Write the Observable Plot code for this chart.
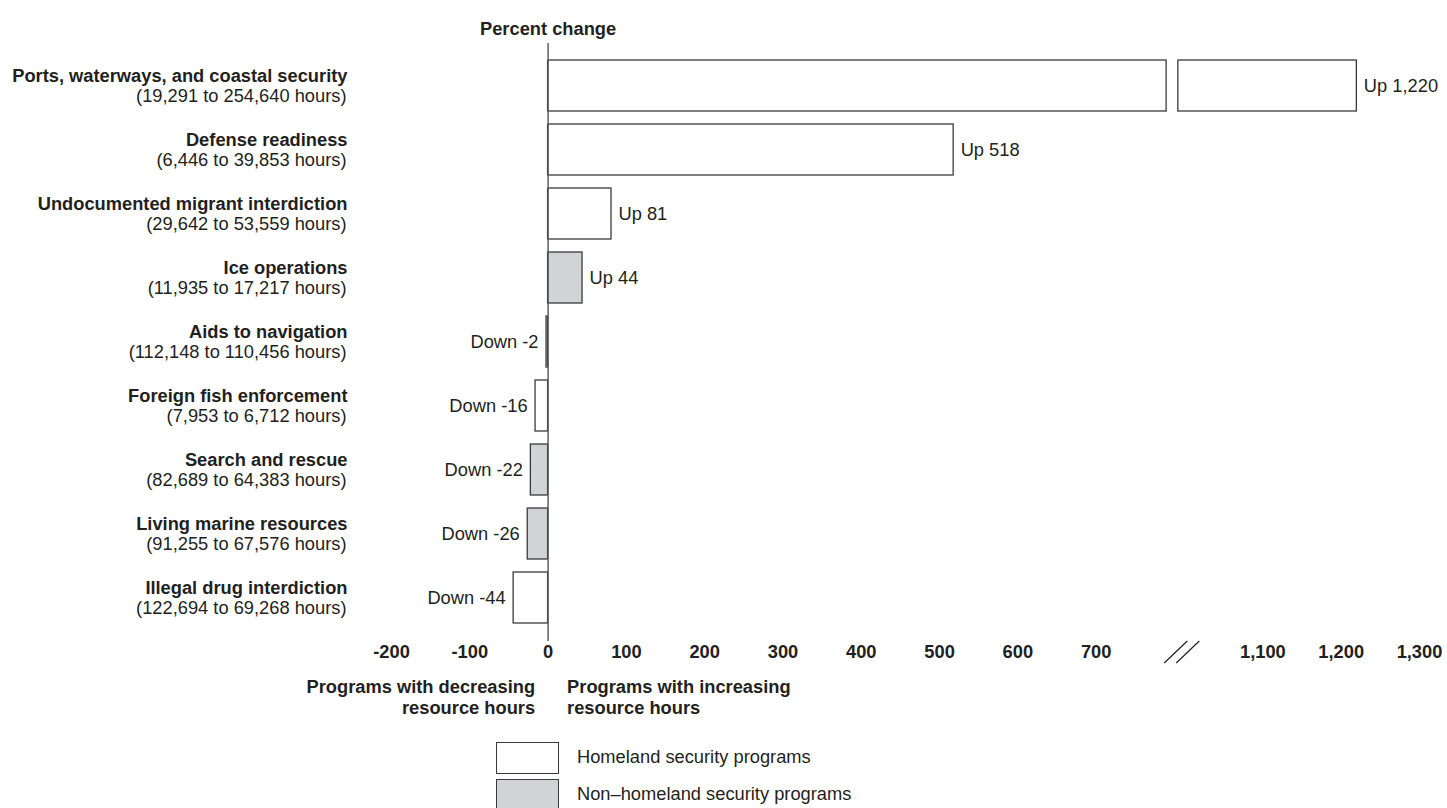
<!DOCTYPE html>
<html>
<head>
<meta charset="utf-8">
<script src="https://cdn.jsdelivr.net/npm/d3@7"></script>
<script src="https://cdn.jsdelivr.net/npm/@observablehq/plot@0.6"></script>
<style>
  html, body { margin: 0; padding: 0; background: #fff; overflow: hidden; }
  body { width: 1447px; height: 808px; position: relative;
         font-family: "Liberation Sans", Arial, Helvetica, sans-serif; color: #231f20; }
  #legend { position: absolute; left: 496px; top: 742px; }
  .item { position: relative; height: 37px; }
  .swatch { position: absolute; left: 0; top: 0; width: 61px; height: 30px; border: 1.3px solid #3a3a3a; }
  .lab { position: absolute; left: 81px; top: 4px; font-size: 18.3px; white-space: nowrap; line-height: 22px; }
</style>
</head>
<body>
<div id="chart"></div>
<div id="legend"></div>
<script>
// ---- data ----
const categories = [
  "Ports, waterways, and coastal security",
  "Defense readiness",
  "Undocumented migrant interdiction",
  "Ice operations",
  "Aids to navigation",
  "Foreign fish enforcement",
  "Search and rescue",
  "Living marine resources",
  "Illegal drug interdiction"
];
const hoursBefore = [19291, 6446, 29642, 11935, 112148, 7953, 82689, 91255, 122694];
const hoursAfter  = [254640, 39853, 53559, 17217, 110456, 6712, 64383, 67576, 69268];
const percentChange = [1220, 518, 81, 44, -2, -16, -22, -26, -44];
const homeland = [true, true, true, false, false, true, false, false, true];
const tickValues = [-200, -100, 0, 100, 200, 300, 400, 500, 600, 700, 1100, 1200, 1300];
const legendLabels = ["Homeland security programs", "Non\u2013homeland security programs"];

// ---- broken axis ----
const CUT = 800;        // values above this are shifted left
const OFFSET = 187;     // amount of the axis removed
const SEG1_END = 790;   // end of first piece of a broken bar
const SEG2_START = 805; // start of second piece (display units)
const BREAK_AT = 810;   // position of the // on the axis (display units)
const disp = v => v > CUT ? v - OFFSET : v;
const undisp = d => d > CUT ? d + OFFSET : d;

const WHITE = "#ffffff", GRAY = "#d1d3d4", INK = "#231f20", EDGE = "#3a3a3a";
const FS = 18.3;
const fmtNum = d3.format(",");
const fmt = v => (v < 0 ? "-" : "") + fmtNum(Math.abs(v));

const rows = categories.map((c, i) => ({
  category: c,
  sub: `(${fmtNum(hoursBefore[i])} to ${fmtNum(hoursAfter[i])} hours)`,
  value: percentChange[i],
  homeland: homeland[i],
  label: percentChange[i] > 0 ? `Up ${fmt(percentChange[i])}` : `Down ${fmt(percentChange[i])}`
}));

const segments = rows.flatMap(r => r.value > CUT
  ? [{...r, x1: 0, x2: SEG1_END}, {...r, x1: SEG2_START, x2: disp(r.value)}]
  : [{...r, x1: Math.min(0, r.value), x2: Math.max(0, r.value)}]);

function breakMark(index, scales, values, dims) {
  const x = scales.x(BREAK_AT);
  const y = dims.height - dims.marginBottom;
  const g = d3.create("svg:g").attr("stroke", INK).attr("stroke-width", 1.2);
  for (const off of [-6, 6]) {
    g.append("line")
      .attr("x1", x + off - 11.5).attr("y1", y + 22)
      .attr("x2", x + off + 11.5).attr("y2", y);
  }
  return g.node();
}

const H = 720;
const chart = Plot.plot({
  width: 1447,
  height: H,
  marginLeft: 391,
  marginRight: 28,
  marginTop: 43,
  marginBottom: H - 641,
  style: {fontFamily: '"Liberation Sans", Arial, Helvetica, sans-serif', fontSize: FS + "px", color: INK, background: "#fff"},
  x: {domain: [-200, disp(1300)], axis: null},
  y: {domain: categories, axis: null, paddingInner: 0.2, paddingOuter: 0.25},
  color: {type: "identity"},
  marks: [
    Plot.barX(segments, {
      y: "category", x1: "x1", x2: "x2",
      fill: d => d.homeland ? WHITE : GRAY,
      stroke: EDGE, strokeWidth: 1.3
    }),
    Plot.ruleX([0], {stroke: "#555", strokeWidth: 1.4}),
    Plot.axisX({
      ticks: tickValues.map(disp),
      tickFormat: d => fmt(undisp(d)),
      tickSize: 0, tickPadding: 3,
      fontWeight: "bold", fontSize: FS, anchor: "bottom", label: null
    }),
    breakMark,
    // value labels
    Plot.text(rows.filter(d => d.value > 0), {
      y: "category", x: d => disp(d.value), text: "label",
      textAnchor: "start", dx: 7, fill: INK, fontSize: FS
    }),
    Plot.text(rows.filter(d => d.value < 0), {
      y: "category", x: "value", text: "label",
      textAnchor: "end", dx: -8, fill: INK, fontSize: FS
    }),
    // category labels
    Plot.text(rows, {
      y: "category", text: "category", frameAnchor: "left",
      textAnchor: "end", dx: -44, dy: -9.5, fontWeight: "bold", fill: INK, fontSize: FS
    }),
    Plot.text(rows, {
      y: "category", text: "sub", frameAnchor: "left",
      textAnchor: "end", dx: -45, dy: 10.5, fill: INK, fontSize: FS
    }),
    // title above the zero line
    Plot.text(["Percent change"], {
      x: [0], text: d => d, frameAnchor: "top", dy: -22, fontWeight: "bold", fill: INK, fontSize: FS
    }),
    // direction labels below the axis
    Plot.text(["Programs with decreasing\nresource hours"], {
      x: [0], text: d => d, frameAnchor: "bottom", textAnchor: "end", lineAnchor: "top",
      dx: -13, dy: 36, lineHeight: 1.17, fontWeight: "bold", fill: INK, fontSize: FS
    }),
    Plot.text(["Programs with increasing\nresource hours"], {
      x: [0], text: d => d, frameAnchor: "bottom", textAnchor: "start", lineAnchor: "top",
      dx: 19, dy: 36, lineHeight: 1.17, fontWeight: "bold", fill: INK, fontSize: FS
    })
  ]
});
document.getElementById("chart").appendChild(chart);

// legend
const legend = document.getElementById("legend");
[WHITE, GRAY].forEach((c, i) => {
  const item = document.createElement("div");
  item.className = "item";
  const sw = document.createElement("div");
  sw.className = "swatch"; sw.style.background = c;
  const lab = document.createElement("div");
  lab.className = "lab"; lab.textContent = legendLabels[i];
  item.appendChild(sw); item.appendChild(lab);
  legend.appendChild(item);
});
</script>
</body>
</html>
